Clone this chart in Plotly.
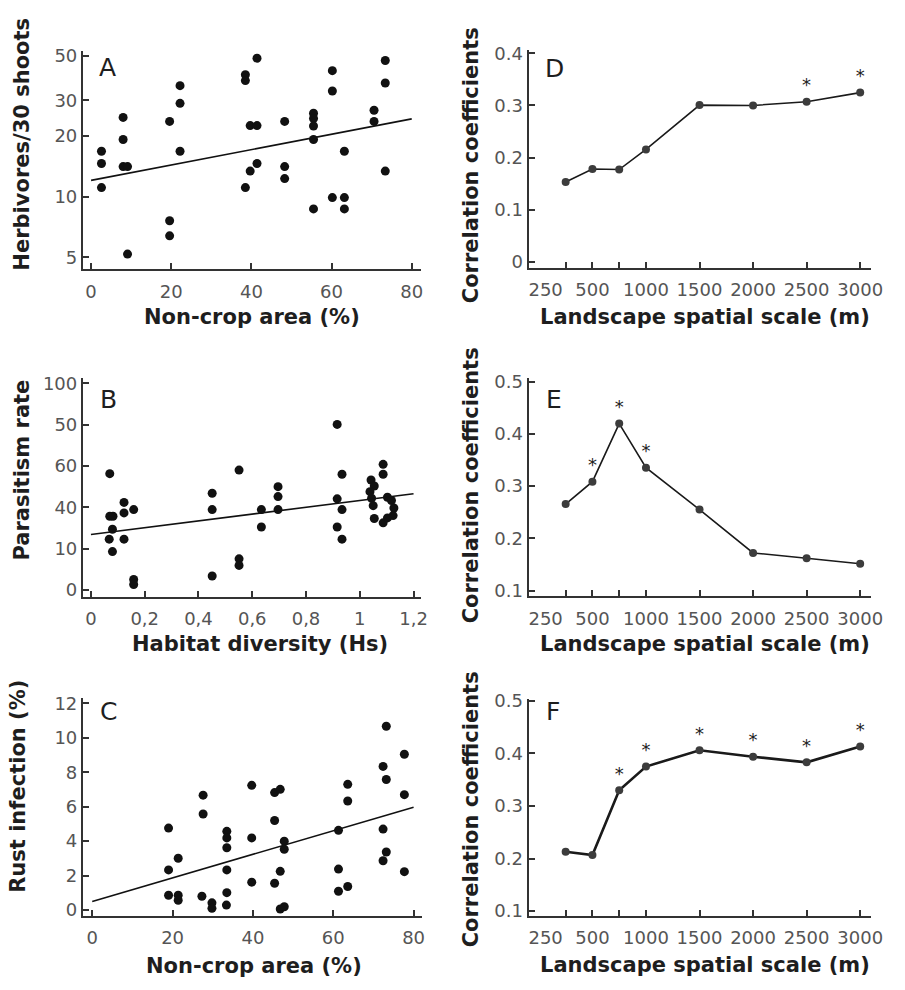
import plotly.graph_objects as go

# ---------------- data ----------------
# Panel A: herbivores vs non-crop area
a_x = [2.6, 2.6, 2.6, 8.0, 8.0, 8.0, 9.1, 9.1, 19.6, 19.6, 19.6, 22.2, 22.2, 22.2,
       38.5, 38.5, 38.5, 39.7, 39.7, 41.4, 41.4, 41.4, 48.3, 48.3, 48.3,
       55.5, 55.5, 55.5, 55.5, 55.5, 60.2, 60.2, 60.2, 63.2, 63.2, 63.2,
       70.6, 70.6, 73.4, 73.4, 73.4]
a_y = [16.8, 14.6, 11.1, 24.7, 19.2, 14.1, 14.1, 5.2, 23.6, 7.6, 6.4, 35.5, 29.0, 16.8,
       40.2, 37.6, 11.1, 22.5, 13.4, 48.5, 22.5, 14.6, 23.6, 14.1, 12.3,
       25.9, 24.4, 22.4, 19.2, 8.7, 42.1, 33.4, 9.9, 16.8, 9.9, 8.7,
       26.8, 23.6, 47.3, 36.6, 13.4]
a_fit_x = [0, 80]
a_fit_y = [12.05, 24.3]
a_xticks = [0, 20, 40, 60, 80]
a_yticks = [5, 10, 20, 30, 50]

# Panel B: parasitism vs habitat diversity
b_x = [0.070, 0.070, 0.082, 0.080, 0.068, 0.080, 0.123, 0.123, 0.159, 0.123, 0.159, 0.159,
       0.451, 0.451, 0.451, 0.551, 0.551, 0.551, 0.634, 0.634, 0.696, 0.696, 0.696,
       0.916, 0.934, 0.916, 0.934, 0.916, 0.934,
       1.042, 1.054, 1.038, 1.044, 1.050, 1.054, 1.087, 1.087, 1.087, 1.103, 1.118,
       1.127, 1.124, 1.103]
b_y = [56.3, 35.7, 35.7, 29.4, 24.6, 18.6, 42.4, 37.3, 38.9, 24.6, 5.1, 2.7,
       46.8, 38.9, 6.8, 58.0, 15.1, 11.9, 38.9, 30.5, 50.0, 45.2, 38.9,
       80.1, 56.0, 44.1, 38.9, 30.5, 24.6,
       53.2, 50.3, 47.6, 44.4, 40.8, 34.6, 60.8, 56.0, 32.5, 44.9, 43.3,
       39.7, 36.0, 34.9]
b_fit_x = [0, 1.2]
b_fit_y = [26.9, 46.6]
b_xticks = [0, 0.2, 0.4, 0.6, 0.8, 1.0, 1.2]
b_xticktext = ["0", "0,2", "0,4", "0,6", "0,8", "1", "1,2"]
b_yticks = [0, 20, 40, 60, 80, 100]
b_yticktext = ["0", "10", "40", "60", "50", "100"]

# Panel C: rust infection vs non-crop area
c_x = [19.0, 19.0, 19.0, 21.4, 21.4, 21.4, 27.6, 27.6, 27.3, 29.8, 29.8,
       33.5, 33.5, 33.5, 33.5, 33.5, 33.4, 39.7, 39.7, 39.7,
       45.4, 46.8, 45.4, 47.8, 47.8, 46.8, 45.4, 46.8, 47.8,
       61.3, 63.6, 63.6, 61.3, 61.3, 63.6,
       73.2, 72.4, 73.2, 72.4, 73.2, 72.4, 77.7, 77.7, 77.7]
c_y = [4.76, 2.33, 0.86, 3.01, 0.86, 0.57, 6.67, 5.58, 0.80, 0.42, 0.10,
       4.57, 4.19, 3.62, 2.33, 1.01, 0.29, 7.24, 4.19, 1.62,
       6.82, 7.01, 5.20, 4.00, 3.53, 2.25, 1.56, 0.06, 0.19,
       4.63, 7.30, 6.33, 2.38, 1.09, 1.37,
       10.67, 8.34, 7.58, 4.70, 3.37, 2.86, 9.05, 6.70, 2.23]
c_fit_x = [0, 80]
c_fit_y = [0.5, 5.97]
c_xticks = [0, 20, 40, 60, 80]
c_yticks = [0, 2, 4, 6, 8, 10, 12]

# Panels D-F: correlation coefficients vs landscape scale
scale_m = [250, 500, 750, 1000, 1500, 2000, 2500, 3000]
scale_labels = ["250", "500", "1000", "1500", "2000", "2500", "3000"]
d_r = [0.153, 0.178, 0.177, 0.2155, 0.3006, 0.300, 0.307, 0.3246]
d_sig = [0, 0, 0, 0, 0, 0, 1, 1]
e_r = [0.2657, 0.3085, 0.4196, 0.3354, 0.2552, 0.1723, 0.1621, 0.1516]
e_sig = [0, 1, 1, 1, 0, 0, 0, 0]
f_r = [0.2129, 0.2067, 0.3298, 0.3747, 0.4058, 0.3934, 0.3828, 0.4127]
f_sig = [0, 0, 1, 1, 1, 1, 1, 1]
d_yticks = [0, 0.1, 0.2, 0.3, 0.4]
ef_yticks = [0.1, 0.2, 0.3, 0.4, 0.5]

# ---------------- layout helpers ----------------
W, H = 905, 990
FONT = "DejaVu Sans"
AX = "#333333"
TICKC = "#555555"
TXT = "#1e1e1e"


def fx(px):
    return px / W


def fy(py):
    return 1 - py / H


def axis(dom, rng, tickvals, ticktext=None, kind="linear", is_x=True):
    d = dict(domain=dom, range=rng, type=kind, showline=True, linecolor=AX, linewidth=2,
             ticks="inside", ticklen=6, tickwidth=2, tickcolor=AX,
             tickvals=tickvals, showgrid=False, zeroline=False,
             tickfont=dict(family=FONT, size=18, color=TICKC), fixedrange=True)
    if ticktext is not None:
        d["ticktext"] = ticktext
    if is_x:
        d["tickangle"] = 0
        d["ticklabelstandoff"] = 5
    return d


def scale_axis(dom):
    # tick marks at every sampled scale; labels as in the original (first label set
    # flush with the axis, none at 750 m)
    label_pos = [scale_m[0] - 187] + [v for v in scale_m[1:] if v != 750]
    d = axis(dom, [-96, 3101], label_pos, scale_labels)
    d["ticks"] = ""
    d["minor"] = dict(tickvals=scale_m, ticks="inside", ticklen=6, tickwidth=2,
                      tickcolor=AX, showgrid=False)
    return d


fig = go.Figure()

scat = dict(mode="markers", marker=dict(size=9, color="#111111", line=dict(width=0)),
            showlegend=False, hoverinfo="skip")
fitl = dict(mode="lines", line=dict(color="#111111", width=1.6), showlegend=False, hoverinfo="skip")

fig.add_trace(go.Scatter(x=a_x, y=a_y, xaxis="x", yaxis="y", **scat))
fig.add_trace(go.Scatter(x=a_fit_x, y=a_fit_y, xaxis="x", yaxis="y", **fitl))
fig.add_trace(go.Scatter(x=b_x, y=b_y, xaxis="x2", yaxis="y2", **scat))
fig.add_trace(go.Scatter(x=b_fit_x, y=b_fit_y, xaxis="x2", yaxis="y2", **fitl))
fig.add_trace(go.Scatter(x=c_x, y=c_y, xaxis="x3", yaxis="y3", **scat))
fig.add_trace(go.Scatter(x=c_fit_x, y=c_fit_y, xaxis="x3", yaxis="y3", **fitl))

for vals, sig, xa, ya, lw in [(d_r, d_sig, "x4", "y4", 1.6), (e_r, e_sig, "x5", "y5", 1.6),
                              (f_r, f_sig, "x6", "y6", 2.6)]:
    fig.add_trace(go.Scatter(
        x=scale_m, y=vals, xaxis=xa, yaxis=ya, mode="lines+markers+text",
        text=["*" if s else "" for s in sig], textposition="top center",
        textfont=dict(family=FONT, size=18, color="#222222"),
        line=dict(color="#1a1a1a", width=lw),
        marker=dict(size=8, color="#3c3c3c", line=dict(width=0)),
        showlegend=False, hoverinfo="skip"))

xr_dom = [fx(535.7), fx(882.7)]

layout = dict(
    width=W, height=H, margin=dict(l=0, r=0, t=0, b=0),
    paper_bgcolor="white", plot_bgcolor="white",
    font=dict(family=FONT, color=TXT),
    xaxis=axis([fx(84), fx(427)], [-2.04, 82.4], a_xticks),
    yaxis=axis([fy(264), fy(43)], [0.642, 1.720], a_yticks, [str(v) for v in a_yticks], "log", False),
    xaxis2=axis([fx(84), fx(426.7)], [-0.030, 1.228], b_xticks, b_xticktext),
    yaxis2=axis([fy(596.7), fy(375)], [-3.2, 102.4], b_yticks, b_yticktext, is_x=False),
    xaxis3=axis([fx(84), fx(427.3)], [-2.33, 82.0], c_xticks),
    yaxis3=axis([fy(920.7), fy(700)], [-0.33, 12.29], c_yticks, is_x=False),
    xaxis4=scale_axis(xr_dom),
    yaxis4=axis([fy(262.7), fy(41.7)], [-0.0113, 0.4062], d_yticks, ["0", "0.1", "0.2", "0.3", "0.4"], is_x=False),
    xaxis5=scale_axis(xr_dom),
    yaxis5=axis([fy(596), fy(375)], [0.09, 0.5062], ef_yticks, is_x=False),
    xaxis6=scale_axis(xr_dom),
    yaxis6=axis([fy(920.7), fy(700.7)], [0.0912, 0.503], ef_yticks, is_x=False),
)
for i in range(2, 7):
    layout[f"yaxis{i}"]["anchor"] = f"x{i}"
    layout[f"xaxis{i}"]["anchor"] = f"y{i}"

anns = []
# panel letters
for letter, px, py in [("A", 109, 59), ("B", 110, 396), ("C", 110, 713),
                       ("D", 562, 60), ("E", 561, 396), ("F", 560, 713)]:
    anns.append(dict(text=letter, x=fx(px), y=fy(py), xref="paper", yref="paper",
                     showarrow=False, xanchor="center", yanchor="middle",
                     font=dict(family=FONT, size=25, color=TXT)))
# axis titles
TF = dict(family=FONT, size=21, color=TXT)
for txt, px, py in [("Non-crop area (%)", 255, 313), ("Habitat diversity (Hs)", 264, 645),
                    ("Non-crop area (%)", 257, 972), ("Landscape spatial scale (m)", 714, 313),
                    ("Landscape spatial scale (m)", 714, 645), ("Landscape spatial scale (m)", 714, 971)]:
    anns.append(dict(text=f"<b>{txt}</b>", x=fx(px), y=fy(py), xref="paper", yref="paper",
                     showarrow=False, xanchor="center", yanchor="middle", font=TF))
for txt, px, py in [("Herbivores/30 shoots", 22, 137), ("Parasitism rate", 22, 468),
                    ("Rust infection (%)", 18, 789), ("Correlation coefficients", 477, 159),
                    ("Correlation coefficients", 477, 484), ("Correlation coefficients", 477, 813)]:
    anns.append(dict(text=f"<b>{txt}</b>", x=fx(px), y=fy(py), xref="paper", yref="paper",
                     showarrow=False, xanchor="center", yanchor="middle", textangle=-90, font=TF))
layout["annotations"] = anns

fig.update_layout(**layout)
fig.write_html("out.html")
